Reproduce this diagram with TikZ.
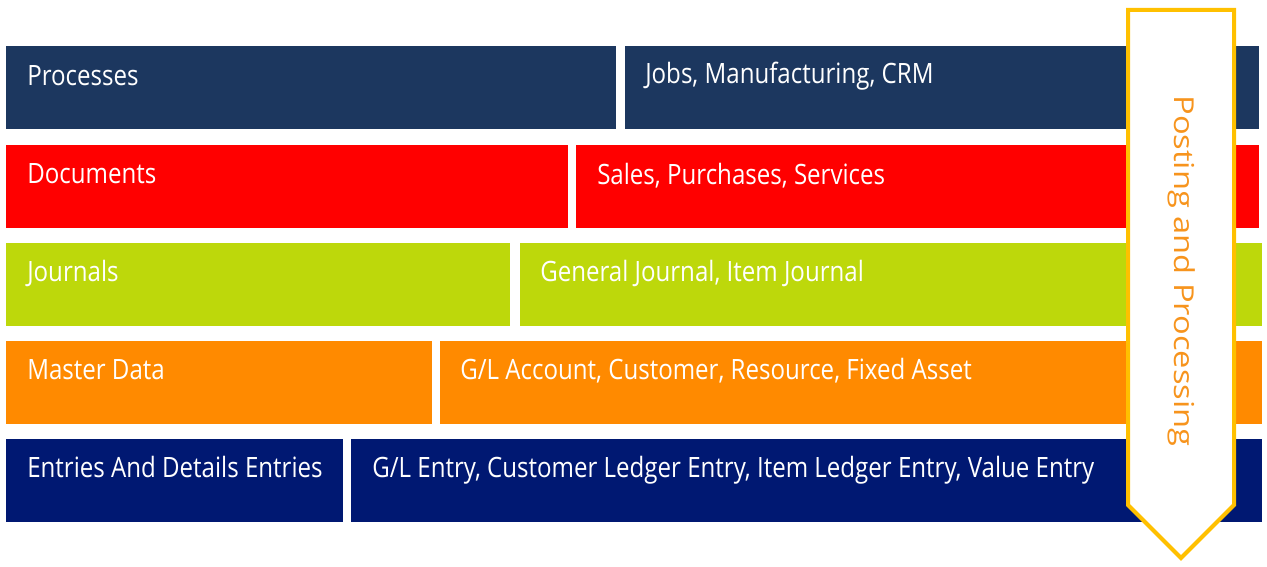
\documentclass[tikz,border=0pt]{standalone}
\usepackage{fontspec}
\setmainfont{Open Sans}
\newfontfamily\barfont[FakeStretch=0.86]{Open Sans}
\usetikzlibrary{positioning}
\definecolor{procblue}{HTML}{1C375F}
\definecolor{docred}{HTML}{FF0000}
\definecolor{jrnlime}{HTML}{BDD80B}
\definecolor{mstorange}{HTML}{FF8A00}
\definecolor{entblue}{HTML}{001872}
\definecolor{postgold}{HTML}{FFC000}
\definecolor{posttext}{HTML}{F7941D}

\begin{document}
\begin{tikzpicture}[x=0.75pt,y=-0.75pt,
		lbl/.style={text=white,font=\barfont\fontsize{21}{24}\selectfont,inner sep=0pt,anchor=base west},
		post/.style={draw=postgold,line width=3pt,fill=white,line join=miter}]
		\useasboundingbox (0,0) rectangle (1267,567);
		% layers, left and right parts
		\fill [procblue] (6,46) rectangle (616,129);
		\fill [procblue] (625,46) rectangle (1259,129);
		\node [lbl] (processes) at (27,85) {Processes};
		\node [lbl] (jobs) at (645,84) {Jobs, Manufacturing, CRM};
		\fill [docred] (6,145) rectangle (568,228);
		\fill [docred] (576,145) rectangle (1259,228);
		\node [lbl] (documents) at (27,183) {Documents};
		\node [lbl] (sales) at (597,184) {Sales, Purchases, Services};
		\fill [jrnlime] (6,243) rectangle (510,326);
		\fill [jrnlime] (520,243) rectangle (1262,326);
		\node [lbl] (journals) at (27,281) {Journals};
		\node [lbl] (genjournal) at (540,281) {General Journal, Item Journal};
		\fill [mstorange] (6,341) rectangle (432,424);
		\fill [mstorange] (440,341) rectangle (1262,424);
		\node [lbl] (masterdata) at (27,379) {Master Data};
		\node [lbl] (glaccount) at (460,379) {G/L Account, Customer, Resource, Fixed Asset};
		\fill [entblue] (6,439) rectangle (343,522);
		\fill [entblue] (351,439) rectangle (1262,522);
		\node [lbl] (entries) at (27,477) {Entries And Details Entries};
		\node [lbl] (glentry) at (372,477) {G/L Entry, Customer Ledger Entry, Item Ledger Entry, Value Entry};
		% posting arrow
		\coordinate (tip) at (1181,558);
		\draw [post] (1128,10) -- (1234,10) -- (1234,505) -- (tip) -- (1128,505) -- cycle;
		\node [text=posttext,font=\fontsize{24.5}{28}\selectfont,rotate=-90,yscale=0.84] (posting) at (1182,271) {Posting and Processing};
	\end{tikzpicture}
\end{document}
